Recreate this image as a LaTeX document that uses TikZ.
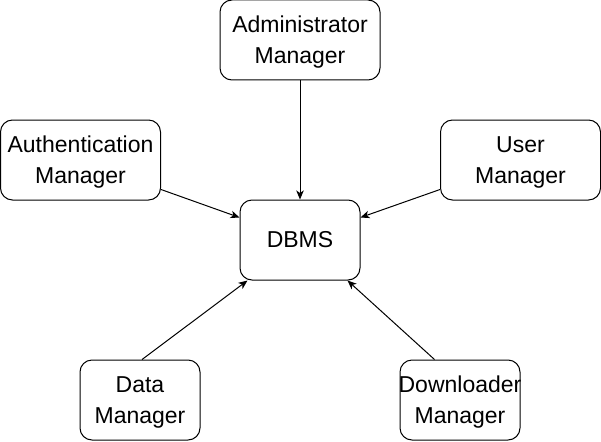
\documentclass[tikz,border=0pt]{standalone}
\usepackage{fontspec}
\setmainfont{Liberation Sans}
\usetikzlibrary{arrows.meta}
\tikzset{
  frame/.style={draw, line width=1pt, rounded corners=12pt, minimum width=160pt, minimum height=80pt, inner sep=0pt},
  txt/.style={font=\fontsize{23}{31}\selectfont, align=center, inner sep=0pt},
  box/.style={frame, label={[txt, yshift=-2.5pt]center:#1}},
  smallbox/.style={box=#1, minimum width=120pt},
  onebox/.style={frame, minimum width=120pt, label={[txt, yshift=0.5pt]center:#1}},
  conn/.style={draw, line width=1pt, -{Stealth[length=9pt,width=7.5pt,inset=2.5pt]}}
}
\begin{document}
\begin{tikzpicture}[x=1pt,y=-1pt]
\useasboundingbox (0,0) rectangle (601,441);
\node[box={Administrator\\Manager}] (admin) at (300,40) {};
\node[box={Authentication\\Manager}] (auth) at (80.5,160) {};
\node[box={User\\Manager}] (user) at (520.5,160) {};
\node[onebox={DBMS}] (dbms) at (300,240) {};
\node[smallbox={Data\\Manager}] (data) at (140,400) {};
\node[smallbox={Downloader\\Manager}] (down) at (460,400) {};
\draw[conn] (admin.south) -- (dbms.north);
\draw[conn] ([yshift=11pt]auth.south east) -- ([yshift=-18pt]dbms.north west);
\draw[conn] ([yshift=11pt]user.south west) -- ([yshift=-18pt]dbms.north east);
\draw[conn] ([xshift=2pt]data.north) -- ([xshift=8pt]dbms.south west);
\draw[conn] ([xshift=35pt]down.north west) -- ([xshift=-13pt]dbms.south east);
\end{tikzpicture}
\end{document}
